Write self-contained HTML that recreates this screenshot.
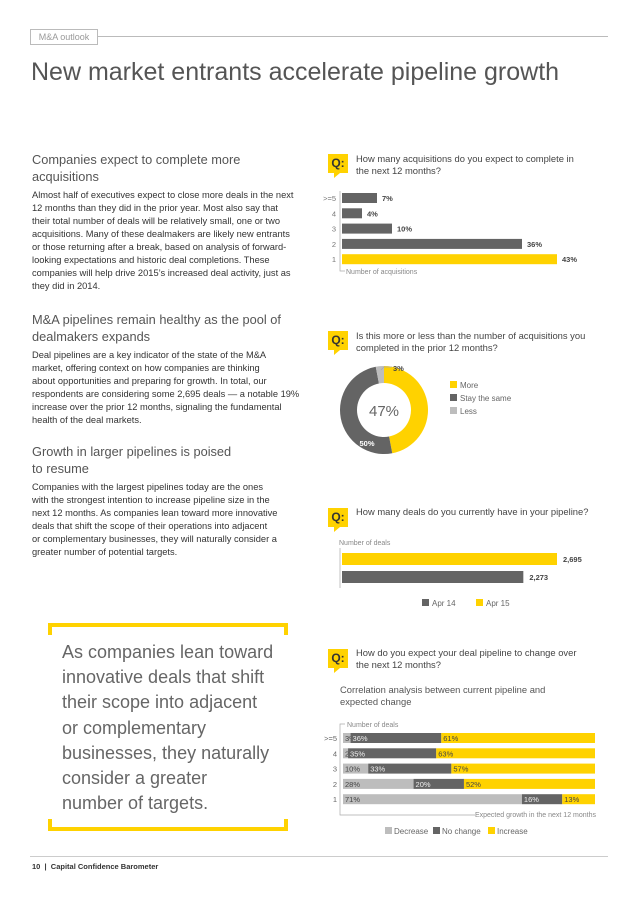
<!DOCTYPE html>
<html><head><meta charset="utf-8">
<style>
body{margin:0;background:#fff;}
#page{position:relative;width:638px;height:902px;overflow:hidden;font-family:"Liberation Sans",sans-serif;color:#555;}
.a{position:absolute;white-space:nowrap;}
.body{font-size:9.3px;line-height:15.1px;color:#333;}
.h{font-size:12.8px;line-height:16.5px;color:#555;}
.q{font-size:9.4px;line-height:12px;color:#444;}
.qi{position:absolute;width:20px;height:19px;background:#ffd200;font-weight:bold;font-size:12px;color:#333;text-align:center;line-height:19px;}
.qi:after{content:"";position:absolute;left:6px;bottom:-5px;border-left:6px solid #ffd200;border-bottom:5px solid transparent;}
svg{position:absolute;left:0;top:0;}
</style></head><body>
<div id="page">
<div class="a" style="left:30px;top:29px;width:66px;height:14px;border:1px solid #bbb;font-size:9px;line-height:14px;color:#999;text-align:center;">M&amp;A outlook</div>
<div class="a" style="left:97px;top:36px;width:511px;height:1px;background:#bbb;"></div>
<div class="a" style="left:31px;top:58px;font-size:25px;color:#555;">New market entrants accelerate pipeline growth</div>

<div class="a h" style="left:32px;top:152px;">Companies expect to complete more<br>acquisitions</div>
<div class="a body" style="left:32px;top:189px;line-height:13px;">Almost half of executives expect to close more deals in the next<br>12 months than they did in the prior year. Most also say that<br>their total number of deals will be relatively small, one or two<br>acquisitions. Many of these dealmakers are likely new entrants<br>or those returning after a break, based on analysis of forward-<br>looking expectations and historic deal completions. These<br>companies will help drive 2015’s increased deal activity, just as<br>they did in 2014.</div>

<div class="a h" style="left:32px;top:312px;">M&amp;A pipelines remain healthy as the pool of<br>dealmakers expands</div>
<div class="a body" style="left:32px;top:349px;line-height:13px;">Deal pipelines are a key indicator of the state of the M&amp;A<br>market, offering context on how companies are thinking<br>about opportunities and preparing for growth. In total, our<br>respondents are considering some 2,695 deals — a notable 19%<br>increase over the prior 12 months, signaling the fundamental<br>health of the deal markets.</div>

<div class="a h" style="left:32px;top:444px;">Growth in larger pipelines is poised<br>to resume</div>
<div class="a body" style="left:32px;top:481px;line-height:13px;">Companies with the largest pipelines today are the ones<br>with the strongest intention to increase pipeline size in the<br>next 12 months. As companies lean toward more innovative<br>deals that shift the scope of their operations into adjacent<br>or complementary businesses, they will naturally consider a<br>greater number of potential targets.</div>

<div class="a" style="left:48px;top:623px;width:240px;height:12px;border:4px solid #ffd200;border-bottom:none;box-sizing:border-box;"></div>
<div class="a" style="left:48px;top:819px;width:240px;height:12px;border:4px solid #ffd200;border-top:none;box-sizing:border-box;"></div>
<div class="a" style="left:62px;top:640px;font-size:18px;line-height:25.2px;color:#666;">As companies lean toward<br>innovative deals that shift<br>their scope into adjacent<br>or complementary<br>businesses, they naturally<br>consider a greater<br>number of targets.</div>

<div class="qi" style="left:328px;top:154px;">Q:</div>
<div class="a q" style="left:356px;top:153px;">How many acquisitions do you expect to complete in<br>the next 12 months?</div>
<div class="qi" style="left:328px;top:331px;">Q:</div>
<div class="a q" style="left:356px;top:330px;">Is this more or less than the number of acquisitions you<br>completed in the prior 12 months?</div>
<div class="qi" style="left:328px;top:508px;">Q:</div>
<div class="a q" style="left:356px;top:506px;">How many deals do you currently have in your pipeline?</div>
<div class="qi" style="left:328px;top:649px;">Q:</div>
<div class="a q" style="left:356px;top:647px;">How do you expect your deal pipeline to change over<br>the next 12 months?</div>
<div class="a" style="left:340px;top:684px;font-size:9.4px;line-height:12px;color:#555;">Correlation analysis between current pipeline and<br>expected change</div>

<div class="a" style="left:30px;top:856px;width:578px;height:1px;background:#ccc;"></div>
<div class="a" style="left:32px;top:862px;font-size:7.5px;font-weight:bold;color:#333;">10 &nbsp;| &nbsp;Capital Confidence Barometer</div>

<svg id="charts" width="638" height="902"></svg>
</div>
<script>
// Chart 1: acquisitions expected
const acqCats = [">=5","4","3","2","1"];
const acqVals = [7,4,10,36,43];
// Chart 2: donut
const donutCats = ["More","Stay the same","Less"];
const donutVals = [47,50,3];
// Chart 3: pipeline
const pipeCats = ["Apr 15","Apr 14"];
const pipeVals = [2695,2273];
// Chart 4: stacked
const chgCats = [">=5","4","3","2","1"];
const chgDecrease = [3,2,10,28,71];
const chgNoChange = [36,35,33,20,16];
const chgIncrease = [61,63,57,52,13];
const chgSeries = ["Decrease","No change","Increase"];

const Y="#ffd200",D="#646464",L="#bdbdbd";
const svg=document.getElementById('charts');
const NS="http://www.w3.org/2000/svg";
function el(t,a,p){const e=document.createElementNS(NS,t);for(const k in a)e.setAttribute(k,a[k]);(p||svg).appendChild(e);return e;}
function txt(s,x,y,a){const e=el('text',Object.assign({x:x,y:y,'font-size':7.5,fill:'#444','font-family':'Liberation Sans, sans-serif'},a||{}));e.textContent=s;return e;}

// chart 1
const x1=(v)=>342+v*5;
const y1=(i)=>193+i*15.3;
acqCats.forEach((c,i)=>{
  const r=el('rect',{x:342,y:y1(i),width:x1(acqVals[i])-342,height:10,fill:i===acqCats.length-1?Y:D});
  
  
  const t=txt(c,336,y1(i)+8,{'text-anchor':'end',fill:'#777'});
  
  
  const v=txt(acqVals[i]+'%',x1(acqVals[i])+5,y1(i)+8,{'font-weight':'bold'});
  
  
});
el('path',{d:'M340 191 V271 H345',stroke:'#aaa',fill:'none','stroke-width':0.7});
txt('Number of acquisitions',346,274,{fill:'#888','font-size':7});

// chart 2 donut
const cx=384,cy=410,R=44,r0=27;
let ang=0;const tot=donutVals.reduce((a,b)=>a+b,0);const dcol=[Y,D,L];
donutVals.forEach((v,i)=>{
  const a0=ang,a1=ang+v/tot*2*Math.PI;ang=a1;
  const p=(a,rr)=>[cx+rr*Math.sin(a),cy-rr*Math.cos(a)];
  const [ax,ay]=p(a0,R),[bx,by]=p(a1,R),[cx1,cy1]=p(a1,r0),[dx,dy]=p(a0,r0);
  const lg=(a1-a0)>Math.PI?1:0;
  const s=el('path',{d:`M${ax} ${ay}A${R} ${R} 0 ${lg} 1 ${bx} ${by}L${cx1} ${cy1}A${r0} ${r0} 0 ${lg} 0 ${dx} ${dy}Z`,fill:dcol[i]});
  
  
});
txt(donutVals[0]+'%',cx,cy+6,{'text-anchor':'middle','font-size':15,fill:'#666'});
txt(donutVals[1]+'%',cx-17,cy+36,{'text-anchor':'middle','font-size':7.5,fill:'#fff','font-weight':'bold'});
el('path',{d:'M381 370 L384 367 H392',stroke:'#aaa',fill:'none','stroke-width':0.7});
txt(donutVals[2]+'%',393,371,{'font-weight':'bold'});
donutCats.forEach((c,i)=>{
  el('rect',{x:450,y:381+i*13,width:7,height:7,fill:dcol[i]});
  const t=txt(c,460,388+i*13,{fill:'#666','font-size':8});
  
  
});

// chart 3
const x3=(v)=>342+v/2695*215;
txt('Number of deals',339,545,{fill:'#888','font-size':7});
el('path',{d:'M340 548 V588',stroke:'#aaa',fill:'none','stroke-width':0.7});
pipeCats.forEach((c,i)=>{
  const y=553+i*18;
  const r=el('rect',{x:342,y:y,width:x3(pipeVals[i])-342,height:12,fill:i===0?Y:D});
  
  
  txt(pipeVals[i].toLocaleString('en-US'),x3(pipeVals[i])+6,y+9,{'font-weight':'bold'});
});
[[pipeCats[1],D,422],[pipeCats[0],Y,476]].forEach(([c,col,x])=>{
  el('rect',{x:x,y:599,width:7,height:7,fill:col});
  txt(c,x+10,606,{fill:'#666','font-size':8});
});

// chart 4
const x4=(v)=>343+v*2.52;
const y4=(i)=>733+i*15.3;
txt('Number of deals',347,727,{fill:'#888','font-size':7});
el('path',{d:'M345 724 H340 V815 H475',stroke:'#aaa',fill:'none','stroke-width':0.7});
txt('Expected growth in the next 12 months',596,817,{fill:'#888','font-size':7,'text-anchor':'end'});
chgCats.forEach((c,i)=>{
  const vals=[chgDecrease[i],chgNoChange[i],chgIncrease[i]];
  let acc=0;
  txt(c,337,y4(i)+8,{'text-anchor':'end',fill:'#666'});
  vals.forEach((v,j)=>{
    const r=el('rect',{x:x4(acc),y:y4(i),width:x4(acc+v)-x4(acc),height:10,fill:[L,D,Y][j]});
    
    
    txt(v+'%',x4(acc)+2,y4(i)+8,{fill:j===1?'#eee':'#444'});
    acc+=v;
  });
});
[[chgSeries[0],L,385],[chgSeries[1],D,433],[chgSeries[2],Y,488]].forEach(([c,col,x])=>{
  el('rect',{x:x,y:827,width:7,height:7,fill:col});
  txt(c,x+9,834,{fill:'#666','font-size':8});
});
</script>
</body></html>
